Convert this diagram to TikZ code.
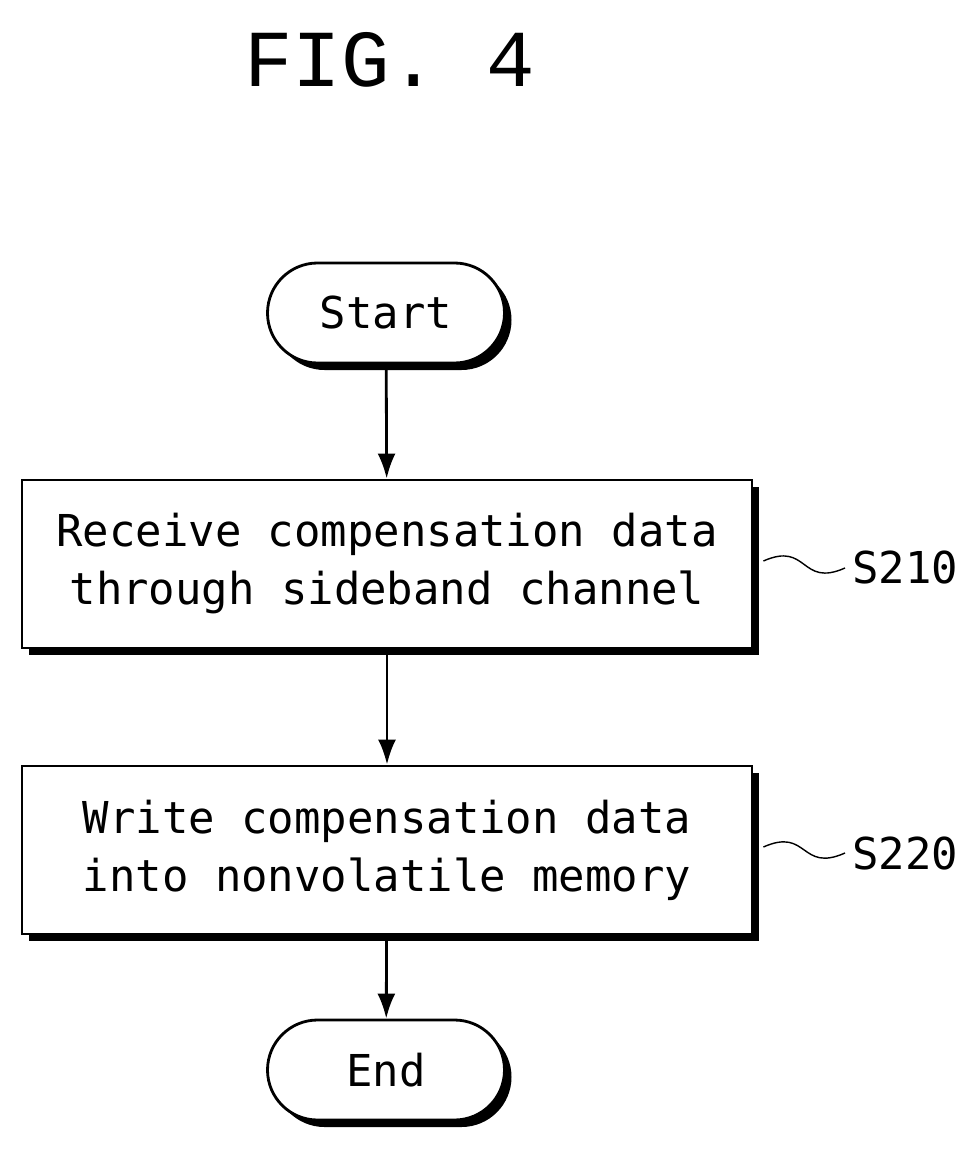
\documentclass[tikz,border=0pt]{standalone}
\usepackage{fontspec}
\setmonofont{DejaVu Sans Mono}
\newfontfamily\titlefont{Liberation Mono}
\usetikzlibrary{positioning}
\usetikzlibrary{shadows}
\usetikzlibrary{arrows.meta}
\tikzset{
  flow/.style     = { draw=black, line width=1.6pt, fill=white, font=\ttfamily\fontsize{25}{33}\selectfont,
                      drop shadow={shadow xshift=1.4mm, shadow yshift=-1.4mm, fill=black, opacity=1} },
  terminal/.style = { flow, rounded corners=1cm, minimum width=4.74cm, minimum height=2cm },
  process/.style  = { flow, minimum width=14.6cm, minimum height=3.36cm, align=center },
  steptag/.style  = { font=\ttfamily\fontsize{25}{30}\selectfont },
}
\begin{document}
\begin{tikzpicture}[>={Latex[length=5mm,width=3.6mm]},line width=1.6pt]
  \useasboundingbox (0,0) rectangle (19.56,-22.98);
  \node (title) at (7.8,-1.2) {\titlefont\fontsize{46}{50}\selectfont FIG. 4};

  \node (start)   [terminal] at (7.72,-6.26)  {Start};
  \node (receive) [process]  at (7.74,-11.28) {Receive compensation data\\through sideband channel};
  \node (write)   [process]  at (7.74,-17.0)  {Write compensation data\\into nonvolatile memory};
  \node (end)     [terminal] at (7.72,-21.4)  {End};

  \draw [->] (start)   -- (receive);
  \draw [->] (receive) -- (write);
  \draw [->] (write)   -- (end);

  \node (s210) [steptag,anchor=west] at (16.9,-11.36) {S210};
  \node (s220) [steptag,anchor=west] at (16.9,-17.06) {S220};
  \draw [line width=0.8pt] (receive.east)+(0.2,0.06) .. controls +(0.9,0.4) and +(-0.9,-0.4) .. (s210.west);
  \draw [line width=0.8pt] (write.east)+(0.2,0.06) .. controls +(0.9,0.4) and +(-0.9,-0.4) .. (s220.west);
\end{tikzpicture}
\end{document}
